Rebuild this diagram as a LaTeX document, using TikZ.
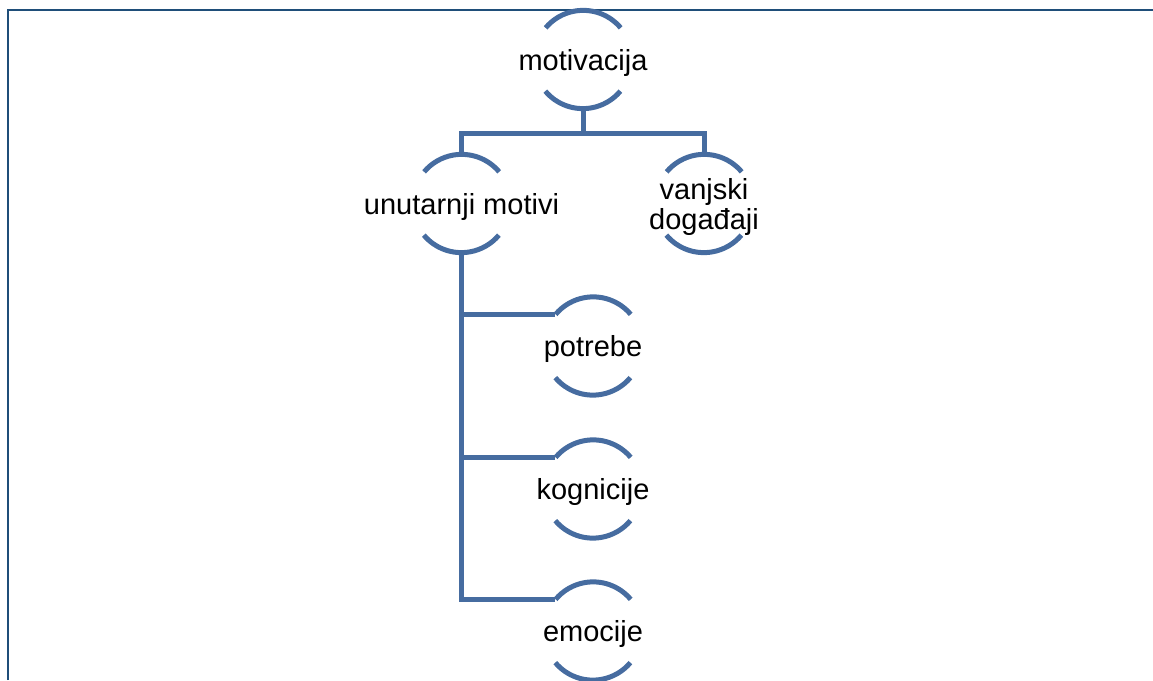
\documentclass[tikz,border=0pt]{standalone}
\usepackage{fontspec}
\setmainfont{Liberation Sans}
\usepackage{xcolor}
\usetikzlibrary{positioning,calc}
\definecolor{arcblue}{RGB}{70,108,160}
\definecolor{frameblue}{RGB}{31,78,121}
\tikzset{
  topic/.style={circle,minimum size=98pt,inner sep=0pt},
  topictext/.style={align=center,inner sep=0pt,yshift=-3.5pt,
    font=\fontsize{29}{30}\selectfont},
  arcline/.style={draw=arcblue,line width=5pt},
  conn/.style={draw=arcblue,line width=5pt,line join=miter}
}

\begin{document}
\begin{tikzpicture}[x=1pt,y=1pt]
        \useasboundingbox (0,0) rectangle (1153,680);
        % frame
        \draw[frameblue,line width=2.5pt] (8,0) -- (8,670) -- (1153,670);
        % topics
        \node[topic,label={[topictext]center:motivacija}] (mot) at (583,620.5) {};
        \node[topic,label={[topictext]center:unutarnji motivi}] (unut) at (461.5,476.5) {};
        \node[topic,label={[topictext]center:vanjski\\događaji}] (vanj) at (704,476.5) {};
        \node[topic,label={[topictext]center:potrebe}] (pot) at (593,334) {};
        \node[topic,label={[topictext]center:kognicije}] (kog) at (593,191) {};
        \node[topic,label={[topictext]center:emocije}] (emo) at (593,49) {};
        % top and bottom arcs
        \foreach \n in {mot,unut,vanj,pot,kog,emo} {
            \draw[arcline] (\n.40) arc[start angle=40,end angle=140,radius=49];
            \draw[arcline] (\n.220) arc[start angle=220,end angle=320,radius=49];
        }
        % connectors
        \draw[conn] (mot.south) -- ++(0,-24.5) coordinate (bar);
        \draw[conn] (unut.north) |- (bar) -| (vanj.north);
        \draw[conn] (unut.south) |- (emo.140);
        \draw[conn] (unut.south |- pot.140) -- (pot.140);
        \draw[conn] (unut.south |- kog.140) -- (kog.140);
    \end{tikzpicture}
\end{document}
